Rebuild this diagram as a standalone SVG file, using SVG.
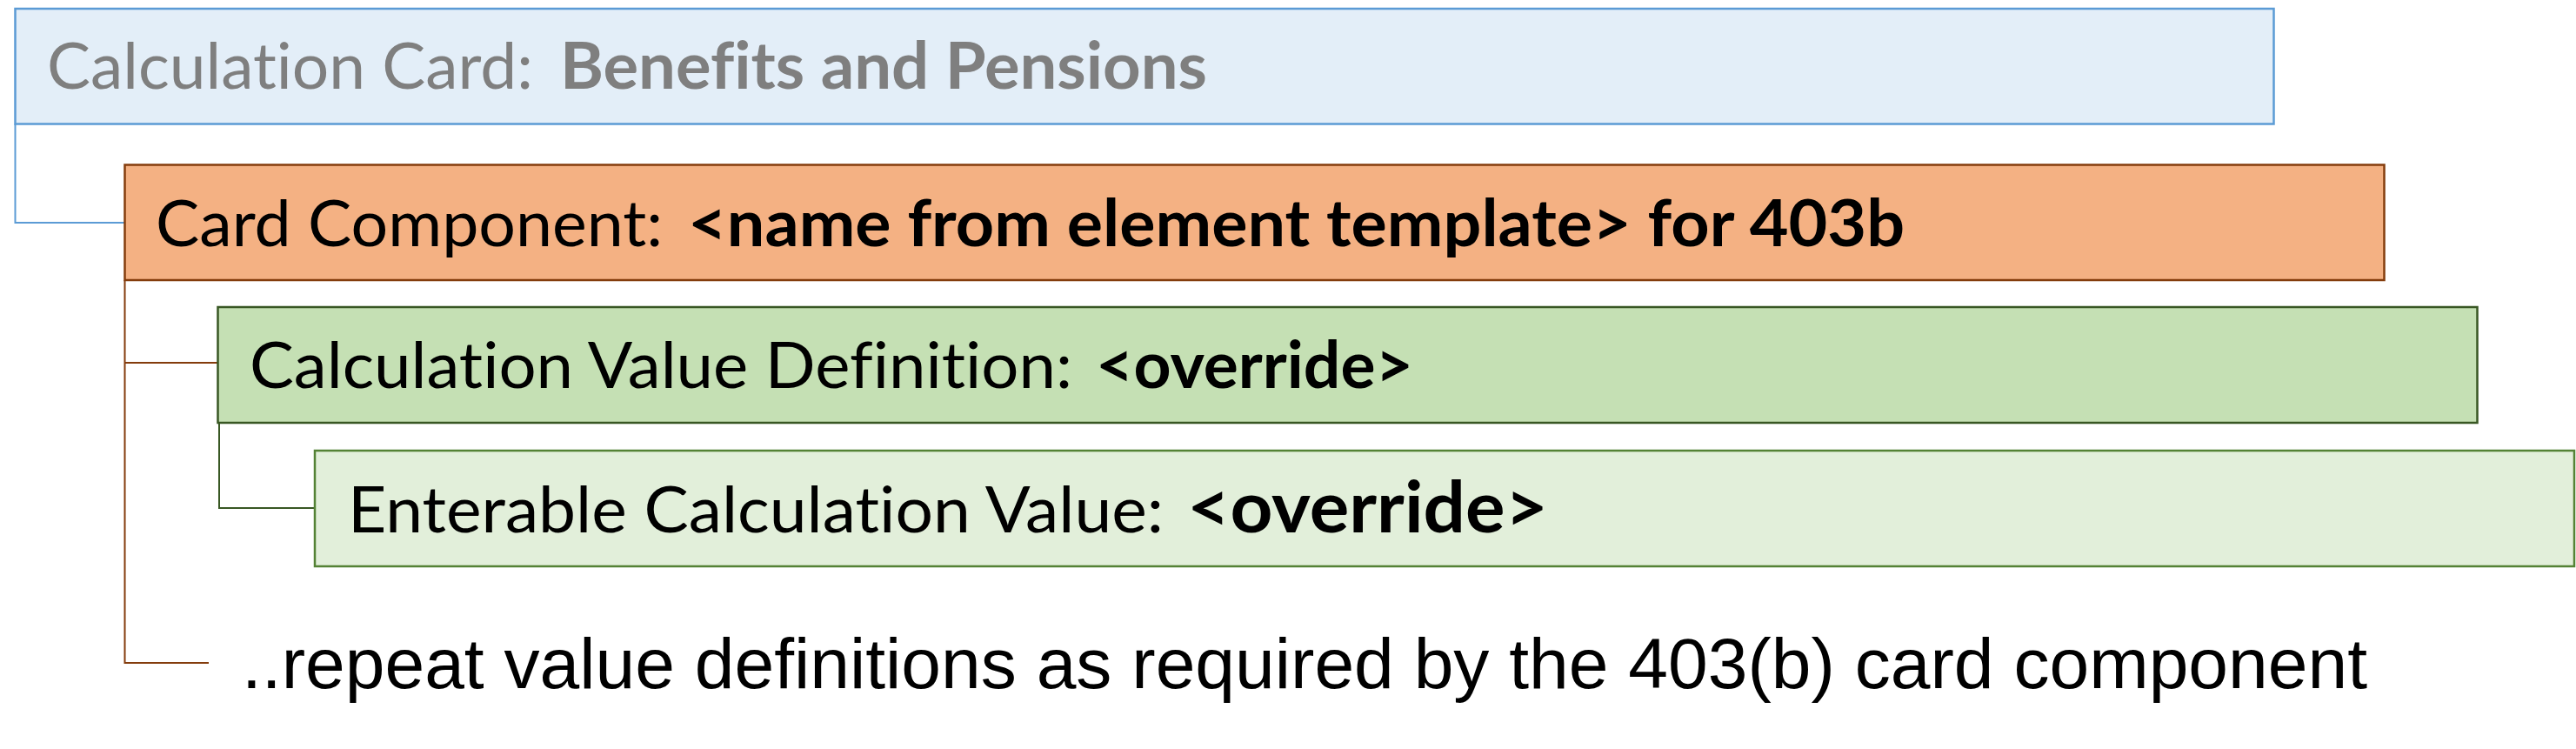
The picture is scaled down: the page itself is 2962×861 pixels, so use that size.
<svg xmlns="http://www.w3.org/2000/svg" width="2962" height="861" viewBox="0 0 2962 861">
<style>
  .box { stroke-width: 2.5; }
  .lbl { font-family: Lato, "Open Sans", "Noto Sans", sans-serif; font-size: 74px; fill: #000; font-variant-ligatures: none; font-feature-settings: "liga" 0, "clig" 0; }
  .b { font-weight: bold; }
  .conn { fill: none; stroke-width: 2; }
  .note { font-family: "Liberation Sans", Arial, sans-serif; font-size: 81px; fill: #000; }
</style>
<rect width="2962" height="861" fill="#ffffff"/>
<g id="connectors">
  <path class="conn" d="M17.5,142.5 V256 H143.5" stroke="#5B9BD5"/>
  <path class="conn" d="M143.5,322 V762 H240" stroke="#843C0C"/>
  <path class="conn" d="M143.5,417 H250.5" stroke="#843C0C"/>
  <path class="conn" d="M252,486 V584 H362" stroke="#385723" stroke-width="1.6"/>
</g>
<g id="calc-card">
  <rect class="box" x="17.5" y="10" width="2597" height="132.5" fill="#E3EEF8" stroke="#5B9BD5"/>
  <text class="lbl" y="102" style="fill:#7F7F7F"><tspan x="54" textLength="559" lengthAdjust="spacingAndGlyphs">Calculation Card:</tspan> <tspan class="b" x="644" textLength="744" lengthAdjust="spacingAndGlyphs">Benefits and Pensions</tspan></text>
</g>
<g id="card-component">
  <rect class="box" x="143.5" y="189.5" width="2598" height="132.5" fill="#F4B183" stroke="#843C0C"/>
  <text class="lbl" y="283"><tspan x="179" textLength="583" lengthAdjust="spacingAndGlyphs">Card Component:</tspan> <tspan class="b" x="791" textLength="1399" lengthAdjust="spacingAndGlyphs">&lt;name from element template&gt; for 403b</tspan></text>
</g>
<g id="value-definition">
  <rect class="box" x="250.5" y="353" width="2598" height="133" fill="#C5E0B4" stroke="#385723"/>
  <text class="lbl" y="446"><tspan x="287" textLength="946" lengthAdjust="spacingAndGlyphs">Calculation Value Definition:</tspan> <tspan class="b" x="1260" textLength="365" lengthAdjust="spacingAndGlyphs">&lt;override&gt;</tspan></text>
</g>
<g id="enterable-value">
  <rect class="box" x="362" y="518" width="2598" height="133" fill="#E2EFDA" stroke="#548235"/>
  <text class="lbl" y="612"><tspan x="400" textLength="938" lengthAdjust="spacingAndGlyphs">Enterable Calculation Value:</tspan> <tspan class="b" x="1365" textLength="415" lengthAdjust="spacingAndGlyphs" style="font-size:82px">&lt;override&gt;</tspan></text>
</g>
<g id="repeat-note">
  <text class="note" x="278" y="791" textLength="2444" lengthAdjust="spacingAndGlyphs">..repeat value definitions as required by the 403(b) card component</text>
</g>
</svg>
